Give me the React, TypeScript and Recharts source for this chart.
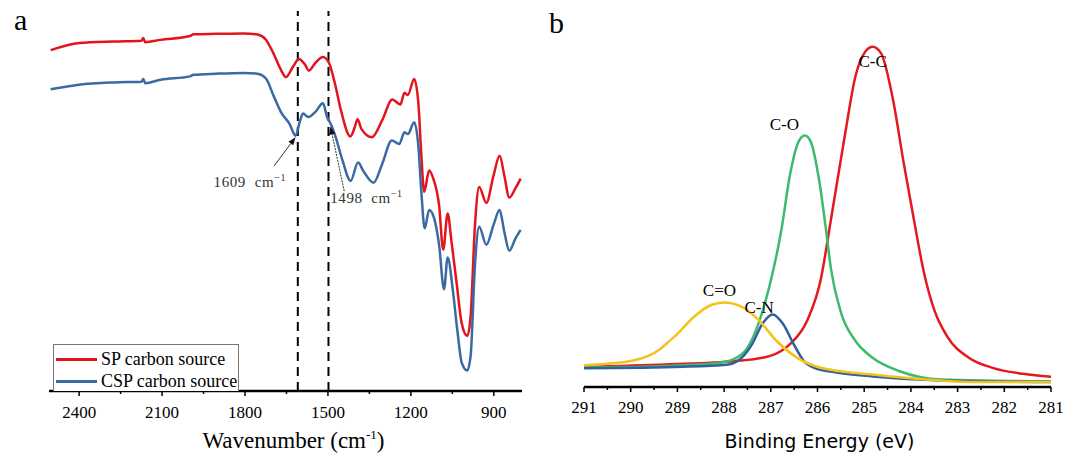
import React from 'react';
import {
  Label,
  Legend,
  Line,
  LineChart,
  ReferenceDot,
  ReferenceLine,
  XAxis,
  YAxis,
} from 'recharts';

const serif = "'Liberation Serif', 'Times New Roman', serif";

// ---- panel a: FTIR ----
const spWavenumber = [
  2503, 2400, 2273, 2174, 2168, 2161, 2105, 1999, 1987, 1904, 1805, 1755, 1725, 1695, 1670, 1652,
  1626, 1605, 1583, 1569, 1546, 1518, 1496, 1475, 1453, 1419, 1403, 1393, 1379, 1341, 1304, 1267,
  1238, 1223, 1211, 1188, 1173, 1162, 1152, 1134, 1119, 1098, 1083, 1067, 1053, 1034, 1016, 996,
  984, 968, 953, 927, 901, 879, 862, 844, 822, 803,
];
const spTransmittance = [
  89.7, 91.6, 92.0, 92.2, 92.9, 91.8, 92.4, 93.4, 93.9, 94.0, 94.1, 93.8, 92.5, 88.5, 84.5, 82.6,
  85.4, 87.4, 85.9, 84.3, 86.3, 87.9, 86.3, 81.0, 73.9, 67.0, 69.4, 71.5, 69.0, 66.8, 71.2, 76.7,
  75.4, 78.5, 77.9, 82.1, 75.8, 61.9, 52.4, 58.0, 55.9, 48.9, 37.2, 46.7, 39.3, 28.1, 17.8, 14.5,
  19.5, 43.8, 53.7, 49.5, 56.7, 61.9, 56.7, 50.9, 53.3, 55.9,
];
const cspWavenumber = [
  2503, 2400, 2273, 2174, 2168, 2161, 2105, 1999, 1987, 1904, 1805, 1755, 1725, 1695, 1670, 1639,
  1617, 1602, 1590, 1571, 1546, 1518, 1503, 1490, 1472, 1447, 1418, 1391, 1372, 1335, 1304, 1269,
  1242, 1223, 1211, 1188, 1173, 1162, 1150, 1134, 1116, 1098, 1080, 1067, 1048, 1032, 1016, 996,
  984, 968, 953, 927, 901, 879, 862, 844, 822, 803,
];
const cspTransmittance = [
  79.4, 80.6, 81.2, 81.4, 82.1, 81.0, 81.9, 82.8, 83.2, 83.5, 83.7, 83.5, 82.3, 77.4, 73.4, 70.3,
  67.2, 70.8, 73.0, 72.1, 73.4, 75.7, 72.1, 70.3, 66.8, 60.6, 55.3, 60.1, 57.9, 54.8, 59.7, 65.9,
  65.0, 68.1, 67.6, 70.7, 64.5, 52.3, 42.8, 47.6, 45.5, 38.5, 26.8, 35.1, 26.4, 16.0, 7.4, 5.4,
  9.1, 33.3, 43.2, 38.5, 43.7, 47.6, 41.9, 36.9, 40.1, 42.4,
];
const ftirNames = ['SP carbon source', 'CSP carbon source'];
const ftirColors = ['#e3141c', '#3a6aa2'];
const ftirTicks = [2400, 2250, 2100, 1950, 1800, 1650, 1500, 1350, 1200, 1050, 900];
const ftirLabels = [2400, 2100, 1800, 1500, 1200, 900];
const bandMarks = [1609, 1498];

// ---- panel b: XPS C 1s ----
const ccEnergy = [
  291, 289.24, 287.76, 287.03, 286.59, 286.22, 285.93, 285.71, 285.41, 285.19, 284.97, 284.82,
  284.64, 284.38, 284.16, 283.94, 283.72, 283.5, 283.21, 282.76, 282.25, 281.59, 281,
];
const ccIntensity = [
  5.4, 6.0, 6.9, 8.2, 11.4, 17.7, 28.6, 44.7, 67.2, 82.5, 89.3, 90.5, 88.8, 76.2, 60.0, 44.8,
  30.4, 20.5, 13.2, 7.8, 5.1, 3.5, 2.7,
];
const coEnergy = [
  291, 289.24, 288.06, 287.62, 287.32, 287.03, 286.77, 286.59, 286.4, 286.27, 286.15, 285.96,
  285.82, 285.71, 285.49, 285.19, 284.82, 284.24, 283.35, 281,
];
const coIntensity = [
  5.2, 5.6, 6.5, 8.7, 15.0, 26.8, 42.0, 56.4, 65.4, 66.9, 65.4, 54.6, 42.0, 31.3, 19.5, 12.3, 7.8,
  4.2, 2.0, 1.5,
];
const cnEnergy = [
  291, 288.87, 287.91, 287.62, 287.4, 287.18, 286.96, 286.74, 286.51, 286.29, 286.07, 285.56,
  284.82, 283.35, 281,
];
const cnIntensity = [5.0, 5.4, 6.0, 7.8, 11.4, 16.8, 19.3, 16.8, 11.4, 6.9, 5.1, 3.8, 2.8, 1.7, 1.3];
const c2oEnergy = [
  291, 290.4, 289.97, 289.6, 289.38, 289.2, 289.01, 288.65, 288.28, 288.0, 287.62, 287.25, 286.88,
  286.44, 285.93, 284.82, 283.35, 282.62, 281,
];
const c2oIntensity = [
  5.8, 6.3, 7.0, 8.4, 10.0, 11.9, 14.0, 18.6, 21.8, 22.5, 21.3, 17.7, 12.3, 7.8, 5.1, 3.3, 1.7, 1.3,
  1.3,
];
const xpsTicks = [
  291, 290.5, 290, 289.5, 289, 288.5, 288, 287.5, 287, 286.5, 286, 285.5, 285, 284.5, 284, 283.5,
  283, 282.5, 282, 281.5, 281,
];
const xpsLabels = [291, 290, 289, 288, 287, 286, 285, 284, 283, 282, 281];
const peakNames = ['C-C', 'C-O', 'C=O', 'C-N'];
const peakLabelEnergy = [284.82, 286.71, 288.1, 287.25];
const peakLabelHeight = [86.6, 69.9, 25.9, 21.2];

const toRows = (xs: number[], ys: number[]) => xs.map((x, i) => ({ x, y: ys[i] }));

const spData = toRows(spWavenumber, spTransmittance);
const cspData = toRows(cspWavenumber, cspTransmittance);
const xpsSeries = [
  { name: 'C-C', color: '#e3191f', data: toRows(ccEnergy, ccIntensity) },
  { name: 'C-O', color: '#3dbb6c', data: toRows(coEnergy, coIntensity) },
  { name: 'C-N', color: '#2f5f9e', data: toRows(cnEnergy, cnIntensity) },
  { name: 'C=O', color: '#f4c21c', data: toRows(c2oEnergy, c2oIntensity) },
];

const makeTick = (labels: number[], labelGap: number) => (props: any) => {
  const { x, y, payload } = props;
  const major = labels.includes(payload.value);
  return (
    <g>
      <line x1={x} x2={x} y1={y} y2={y + (major ? 5 : 3)} stroke='#000' strokeWidth={1.5} />
      {major && (
        <text x={x} y={y + labelGap} textAnchor='middle' style={{ fontFamily: serif, fontSize: 17 }} fill='#000'>
          {payload.value}
        </text>
      )}
    </g>
  );
};

// arrow with a label, used for the two band annotations
const arrowShape = (text: string, dx: number, dy: number, anchor: string, dashed: boolean) => (p: any) => {
  const { x1, y1, x2, y2 } = p;
  const ang = Math.atan2(y2 - y1, x2 - x1);
  const len = 8;
  const w = 3;
  const bx = x2 - len * Math.cos(ang);
  const by = y2 - len * Math.sin(ang);
  const pts = [
    `${x2},${y2}`,
    `${bx + w * Math.sin(ang)},${by - w * Math.cos(ang)}`,
    `${bx - w * Math.sin(ang)},${by + w * Math.cos(ang)}`,
  ].join(' ');
  return (
    <g>
      <line x1={x1} y1={y1} x2={bx} y2={by} stroke='#333' strokeWidth={1} strokeDasharray={dashed ? '2 1' : undefined} />
      <polygon points={pts} fill='#111' />
      <text
        x={x1 + dx}
        y={y1 + dy}
        textAnchor={anchor as any}
        style={{ fontFamily: serif, fontSize: 15, letterSpacing: 0.6, whiteSpace: 'pre' }}
        fill='#333'
      >
        {text}
        <tspan dy={-6} style={{ fontSize: 10 }}>−1</tspan>
      </text>
    </g>
  );
};

const FtirLegend = () => (
  <div
    style={{
      width: 186,
      height: 47,
      boxSizing: 'border-box',
      border: '1px solid #777',
      borderBottom: 'none',
      background: '#fff',
      padding: '3px 0 0 2px',
      fontFamily: serif,
      fontSize: 18,
      lineHeight: '22px',
      color: '#000',
      whiteSpace: 'nowrap',
    }}
  >
    {ftirNames.map((n, i) => (
      <div key={n} style={{ display: 'flex', alignItems: 'center', height: 22 }}>
        <span style={{ display: 'inline-block', width: 41, height: 3, background: ftirColors[i], marginRight: 4 }} />
        {n}
      </div>
    ))}
  </div>
);

export default function App() {
  return (
    <div style={{ position: 'absolute', left: 0, top: 0, width: 1067, height: 456, background: '#fff' }}>
      <div style={{ position: 'absolute', left: 14, top: 5, fontFamily: serif, fontSize: 30, lineHeight: '30px' }}>a</div>
      <div style={{ position: 'absolute', left: 549, top: 8, fontFamily: serif, fontSize: 30, lineHeight: '30px' }}>b</div>

      <div style={{ position: 'absolute', left: 0, top: 0 }}>
        <LineChart width={540} height={456} margin={{ top: 11, right: 18, bottom: 0, left: 49 }}>
          <XAxis
            dataKey='x'
            type='number'
            domain={[798, 2509]}
            reversed
            ticks={ftirTicks}
            interval={0}
            height={65}
            tickSize={0}
            tickMargin={0}
            tickLine={false}
            tick={makeTick(ftirLabels, 27)}
            axisLine={{ stroke: '#000', strokeWidth: 2.5 }}
            allowDataOverflow
          >
            <Label
              content={(p: any) => (
                <text
                  x={p.viewBox.x + p.viewBox.width / 2 + 8}
                  y={p.viewBox.y + 57}
                  textAnchor='middle'
                  style={{ fontFamily: serif, fontSize: 23 }}
                  fill='#000'
                >
                  Wavenumber (cm<tspan dy={-9} style={{ fontSize: 13 }}>-1</tspan>
                  <tspan dy={9}>)</tspan>
                </text>
              )}
            />
          </XAxis>
          <XAxis xAxisId='top' orientation='top' type='number' domain={[798, 2509]} reversed height={0} tick={false} tickLine={false} axisLine={{ stroke: '#000', strokeWidth: 2.5 }} />
          <YAxis
            type='number'
            domain={[0, 100]}
            width={0}
            tick={false}
            tickLine={false}
            axisLine={{ stroke: '#000', strokeWidth: 2.5 }}
          >
            <Label
              content={() => (
                <text
                  x={24}
                  y={192}
                  transform='rotate(-90 24 192)'
                  textAnchor='middle'
                  dominantBaseline='central'
                  style={{ fontFamily: serif, fontSize: 23 }}
                  fill='#000'
                >
                  Transmittance (%)
                </text>
              )}
            />
          </YAxis>
          <YAxis yAxisId='right' orientation='right' type='number' domain={[0, 100]} width={0} tick={false} tickLine={false} axisLine={{ stroke: '#000', strokeWidth: 2.5 }} />
          {bandMarks.map((b) => (
            <ReferenceLine key={b} x={b} stroke='#000' strokeWidth={2} strokeDasharray='9 6' />
          ))}
          <Line data={spData} dataKey='y' name={ftirNames[0]} type='monotone' stroke={ftirColors[0]} strokeWidth={2.5} dot={false} isAnimationActive={false} />
          <Line data={cspData} dataKey='y' name={ftirNames[1]} type='monotone' stroke={ftirColors[1]} strokeWidth={2.5} dot={false} isAnimationActive={false} />
          <ReferenceLine
            segment={[{ x: 1695, y: 59.2 }, { x: 1617, y: 66.8 }]}
            shape={arrowShape('1609  cm', 12, 21, 'end', false)}
          />
          <ReferenceLine
            segment={[{ x: 1441, y: 52.6 }, { x: 1491, y: 69.6 }]}
            shape={arrowShape('1498  cm', -14, 12, 'start', true)}
          />
          <Legend
            layout='horizontal'
            verticalAlign='middle'
            align='center'
            content={FtirLegend}
            wrapperStyle={{ left: 53, top: 344, width: 186, height: 47 }}
          />
        </LineChart>
      </div>

      <div style={{ position: 'absolute', left: 540, top: 0 }}>
        <LineChart width={527} height={456} margin={{ top: 11, right: 16, bottom: 0, left: 44 }}>
          <XAxis
            dataKey='x'
            type='number'
            domain={[281, 291]}
            reversed
            ticks={xpsTicks}
            interval={0}
            height={69}
            tickSize={0}
            tickMargin={0}
            tickLine={false}
            tick={makeTick(xpsLabels, 26)}
            axisLine={{ stroke: '#000', strokeWidth: 2.5 }}
          >
            <Label
              content={(p: any) => (
                <text
                  x={p.viewBox.x + p.viewBox.width / 2 + 2}
                  y={p.viewBox.y + 61}
                  textAnchor='middle'
                  style={{ fontFamily: "'DejaVu Sans', sans-serif", fontSize: 19 }}
                  fill='#000'
                >
                  Binding Energy (eV)
                </text>
              )}
            />
          </XAxis>
          <XAxis xAxisId='top' orientation='top' type='number' domain={[281, 291]} reversed height={0} tick={false} tickLine={false} axisLine={{ stroke: '#000', strokeWidth: 2.5 }} />
          <YAxis type='number' domain={[0, 100]} width={0} tick={false} tickLine={false} axisLine={{ stroke: '#000', strokeWidth: 2.5 }} />
          <YAxis yAxisId='right' orientation='right' type='number' domain={[0, 100]} width={0} tick={false} tickLine={false} axisLine={{ stroke: '#000', strokeWidth: 2.5 }} />
          {xpsSeries.map((s) => (
            <Line key={s.name} data={s.data} dataKey='y' name={s.name} type='monotone' stroke={s.color} strokeWidth={2.5} dot={false} isAnimationActive={false} />
          ))}
          {peakNames.map((n, i) => (
            <ReferenceDot
              key={n}
              x={peakLabelEnergy[i]}
              y={peakLabelHeight[i]}
              r={0}
              stroke='none'
              label={{ value: n, position: 'center', style: { fontFamily: serif, fontSize: 17 }, fill: '#000' }}
            />
          ))}
        </LineChart>
      </div>
    </div>
  );
}
